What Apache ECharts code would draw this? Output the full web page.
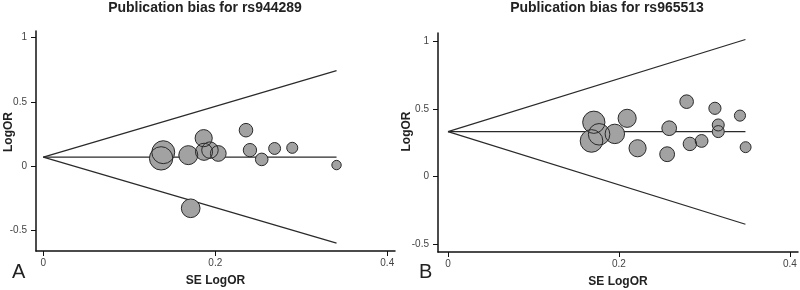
<!DOCTYPE html>
<html>
<head>
<meta charset="utf-8">
<script src="https://cdn.jsdelivr.net/npm/echarts@6/dist/echarts.min.js"></script>
<style>
  html, body { margin: 0; padding: 0; background: #fff; }
  #main { width: 800px; height: 290px; }
</style>
</head>
<body>
<div id="main"></div>
<script>
var chartDom = document.getElementById('main');
var myChart = echarts.init(chartDom, null, { renderer: 'canvas' });

// panel A: rs944289
var seA = [0.1395, 0.137, 0.1686, 0.1865, 0.1869, 0.1938, 0.2035, 0.2357, 0.2403, 0.254, 0.269, 0.2895, 0.341, 0.1714];
var logOrA = [0.108, 0.060, 0.085, 0.217, 0.111, 0.124, 0.098, 0.279, 0.124, 0.052, 0.137, 0.142, 0.008, -0.328];
var funnelA = [0.07, 0.341, 0.742, -0.599]; // pooled, max SE, upper end, lower end

// panel B: rs965513
var seB = [0.1706, 0.1768, 0.1679, 0.1952, 0.2096, 0.2218, 0.2588, 0.2564, 0.2792, 0.283, 0.2967, 0.3123, 0.3162, 0.3162, 0.3416, 0.3482];
var logOrB = [0.401, 0.312, 0.263, 0.315, 0.430, 0.209, 0.357, 0.165, 0.553, 0.241, 0.263, 0.504, 0.381, 0.332, 0.450, 0.217];
var funnelB = [0.332, 0.348, 1.012, -0.352];

var titles = ['Publication bias for rs944289', 'Publication bias for rs965513'];
var yTicks = [-0.5, 0, 0.5, 1];
var xTicks = [0, 0.2, 0.4];

var font = 'Liberation Sans, Arial, sans-serif';

function pairs(xs, ys) {
  return xs.map(function (x, i) { return [x, ys[i]]; });
}

function xAxisFor(idx, min, max) {
  return {
    gridIndex: idx, type: 'value', min: min, max: max,
    name: 'SE LogOR', nameLocation: 'middle', nameGap: 24, nameMoveOverlap: false,
    nameTextStyle: { fontFamily: font, fontWeight: 'bold', fontSize: 12, color: '#222' },
    splitLine: { show: false },
    axisLine: { onZero: false, lineStyle: { color: '#111', width: 1.5 } },
    axisTick: { customValues: xTicks, length: 5, lineStyle: { color: '#111', width: 1 } },
    axisLabel: { customValues: xTicks, margin: 7, fontFamily: font, fontSize: 10, color: '#444' }
  };
}

function yAxisFor(idx, min, max, gap, pad) {
  return {
    gridIndex: idx, type: 'value', min: min, max: max,
    name: 'LogOR', nameLocation: 'middle', nameGap: gap, nameMoveOverlap: false,
    nameTextStyle: { fontFamily: font, fontWeight: 'bold', fontSize: 12, color: '#222', padding: [0, 0, 0, pad] },
    splitLine: { show: false },
    axisLine: { onZero: false, lineStyle: { color: '#111', width: 1.5 } },
    axisTick: { customValues: yTicks, length: 5, lineStyle: { color: '#111', width: 1 } },
    axisLabel: { customValues: yTicks, margin: 9, fontFamily: font, fontSize: 10, color: '#444' }
  };
}

function funnelSeries(idx, f) {
  var line = { color: '#2a2a2a', width: 1.2 };
  var common = { type: 'line', xAxisIndex: idx, yAxisIndex: idx, symbol: 'none', silent: true, lineStyle: line, z: 1 };
  return [
    Object.assign({ data: [[0, f[0]], [f[1], f[2]]] }, common),
    Object.assign({ data: [[0, f[0]], [f[1], f[3]]] }, common),
    Object.assign({ data: [[0, f[0]], [f[1], f[0]]] }, common)
  ];
}

function bubbleSeries(idx, se, lor, k) {
  var size = function (v) { return k / v[0]; };
  return [
    { type: 'scatter', xAxisIndex: idx, yAxisIndex: idx, data: pairs(se, lor), symbolSize: size,
      itemStyle: { color: '#a2a2a2', opacity: 1 }, z: 2 },
    { type: 'scatter', xAxisIndex: idx, yAxisIndex: idx, data: pairs(se, lor), symbolSize: size,
      itemStyle: { color: 'rgba(0,0,0,0)', borderColor: '#2a2a2a', borderWidth: 1, opacity: 1 }, z: 3 }
  ];
}

var option = {
  animation: false,
  backgroundColor: '#fff',
  title: [
    { text: titles[0], left: 205, top: 1, padding: 0, textAlign: 'center',
      textStyle: { fontFamily: font, fontSize: 14, fontWeight: 'bold', color: '#222' } },
    { text: titles[1], left: 607, top: 1, padding: 0, textAlign: 'center',
      textStyle: { fontFamily: font, fontSize: 14, fontWeight: 'bold', color: '#222' } }
  ],
  grid: [
    { left: 36, top: 31, width: 359, height: 220, outerBoundsMode: 'none', containLabel: false },
    { left: 438, top: 33, width: 360, height: 219, outerBoundsMode: 'none', containLabel: false }
  ],
  xAxis: [xAxisFor(0, -0.0085, 0.409), xAxisFor(1, -0.0117, 0.4095)],
  yAxis: [yAxisFor(0, -0.66, 1.05, 21, 18), yAxisFor(1, -0.557, 1.06, 25, 22)],
  graphic: [
    { type: 'text', left: 12, top: 262, style: { text: 'A', font: '20px ' + font, fill: '#222' } },
    { type: 'text', left: 419, top: 262, style: { text: 'B', font: '20px ' + font, fill: '#222' } }
  ],
  series: [].concat(
    funnelSeries(0, funnelA),
    bubbleSeries(0, seA, logOrA, 3.2),
    funnelSeries(1, funnelB),
    bubbleSeries(1, seB, logOrB, 3.8)
  )
};

myChart.setOption(option);
window.addEventListener('resize', myChart.resize);
</script>
</body>
</html>
